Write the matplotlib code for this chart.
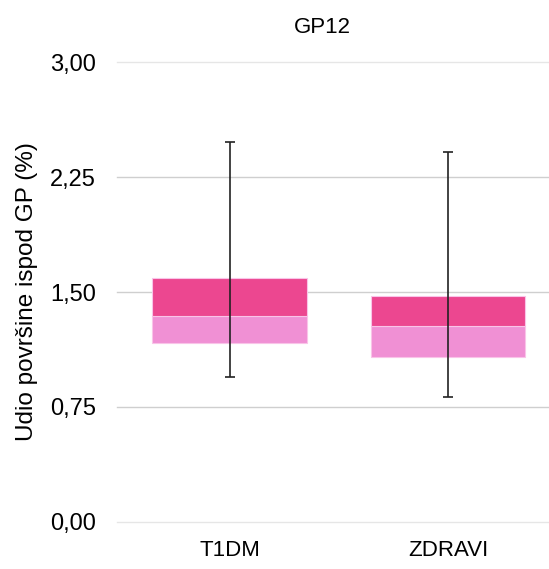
import numpy as np
import matplotlib.pyplot as plt
from matplotlib.ticker import FuncFormatter

plt.rcParams['font.family'] = ['Liberation Sans', 'DejaVu Sans']

categories = ['T1DM', 'ZDRAVI']
q1 = np.array([1.167, 1.076])
median = np.array([1.344, 1.279])
q3 = np.array([1.592, 1.474])
whisker_low = np.array([0.945, 0.815])
whisker_high = np.array([2.48, 2.413])
yticks = [0.0, 0.75, 1.5, 2.25, 3.0]

light = '#f090d4'
dark = '#ec4790'

fig = plt.figure(figsize=(5.49, 5.69), dpi=100)
ax = fig.add_axes([0.213, 0.0831, 0.787, 0.8074])

x = np.arange(len(categories))
w = 0.71
ax.bar(x, median - q1, bottom=q1, width=w, color=light, edgecolor='#f9c4e8', linewidth=0.8, zorder=2)
ax.bar(x, q3 - median, bottom=median, width=w, color=dark, edgecolor='#f9c4e8', linewidth=0.8, zorder=2)
ax.errorbar(x, median, yerr=[median - whisker_low, whisker_high - median], fmt='none',
            ecolor='#222222', elinewidth=1.2, capsize=3.5, capthick=1.2, zorder=3)

ax.set_xlim(-0.518, 1.463)
ax.set_ylim(0, 3)
ax.set_yticks(yticks)
ax.yaxis.set_major_formatter(FuncFormatter(lambda v, p: f'{v:.2f}'.replace('.', ',')))
ax.set_xticks(x)
ax.set_xticklabels(categories)
ax.tick_params(axis='y', length=0, pad=15, labelsize=17)
ax.tick_params(axis='x', length=0, pad=13, labelsize=16)
for s in ax.spines.values():
    s.set_visible(False)

ax.yaxis.grid(True, color='#cfcfcf', linewidth=1.0, zorder=0)
ax.set_axisbelow(True)
gl = ax.get_ygridlines()
gl[0].set_color('#e6e6e6')
gl[-1].set_color('#e6e6e6')
for g in gl:
    g.set_clip_on(False)

ax.set_ylabel('Udio površine ispod GP (%)', fontsize=17.5, labelpad=9)
fig.text(0.588, 0.951, 'GP12', ha='center', va='center', fontsize=16)

fig.savefig('out.png', dpi=100)
